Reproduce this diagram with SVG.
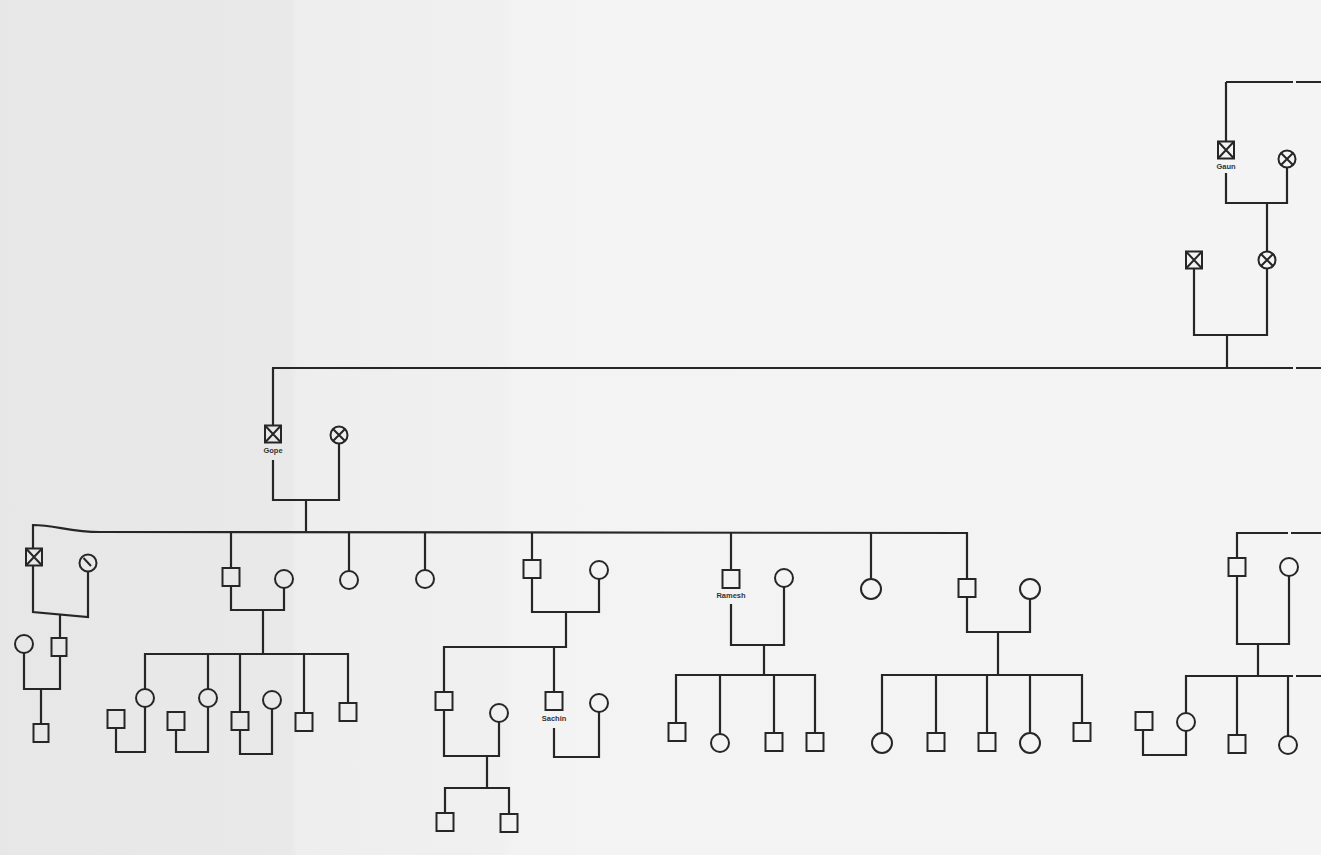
<svg xmlns="http://www.w3.org/2000/svg" xmlns:xlink="http://www.w3.org/1999/xlink" width="1321" height="855" viewBox="0 0 1321 855">
  <style>
    .ln { fill: none; stroke: #262626; stroke-width: 2.2; stroke-linejoin: miter; }
    .sym { fill: none; stroke: #262626; stroke-width: 2; }
    .lbl { font-family: "Liberation Sans", Arial, sans-serif; font-size: 7.5px; font-weight: bold; fill: #333; text-anchor: middle; }
  </style>
  <defs>
    <linearGradient id="paper" x1="0" y1="0" x2="1" y2="0">
      <stop offset="0" stop-color="#e7e7e7"/>
      <stop offset="0.22" stop-color="#e9e9e9"/>
      <stop offset="0.225" stop-color="#eeeeee"/>
      <stop offset="0.38" stop-color="#f0f0f0"/>
      <stop offset="0.39" stop-color="#f3f3f3"/>
      <stop offset="1" stop-color="#f4f4f4"/>
    </linearGradient>
    <!-- pedigree symbols, centred on 0,0 -->
    <g id="sq"><rect class="sym" x="-8.5" y="-9" width="17" height="18"/></g>
    <g id="ci"><circle class="sym" r="9"/></g>
    <g id="sqx"><rect class="sym" x="-8" y="-8.5" width="16" height="17"/><path class="sym" d="M-8,-8.5 L8,8.5 M8,-8.5 L-8,8.5"/></g>
    <g id="cix"><circle class="sym" r="8.5"/><path class="sym" d="M-6,-6 L6,6 M6,-6 L-6,6"/></g>
    <g id="cis"><circle class="sym" r="8.5"/><path class="sym" d="M-4.5,-5 L3,3"/></g>
  </defs>

  <rect width="1321" height="855" fill="url(#paper)"/>

  <g id="connectors">
    <!-- top generation -->
    <path class="ln" d="M1226,82 H1293 M1296,82 H1321"/>
    <path class="ln" d="M1226,82 V142"/>
    <path class="ln" d="M1226,173 V203 H1287 V167"/>
    <path class="ln" d="M1267,203 V251"/>
    <path class="ln" d="M1194,268 V335 H1267 V268"/>
    <path class="ln" d="M1227,335 V368"/>
    <!-- main sibling line -->
    <path class="ln" d="M272,368 H1293 M1296,368 H1321"/>
    <path class="ln" d="M273,368 V426"/>
    <path class="ln" d="M273,460 V500 H339 V444"/>
    <path class="ln" d="M306,500 V533"/>
    <!-- Gope's children -->
    <path class="ln" d="M33,549 V525 C55,525 70,532 100,532 L967,533 V579"/>
    <!-- leftmost branch -->
    <path class="ln" d="M33,566 V612 L88,617 V572"/>
    <path class="ln" d="M60,615 V638"/>
    <path class="ln" d="M24,653 V689 H60 V656"/>
    <path class="ln" d="M41,689 V724"/>
    <!-- second branch -->
    <path class="ln" d="M231,533 V568"/>
    <path class="ln" d="M231,586 V610 H284 V588"/>
    <path class="ln" d="M263,610 V654"/>
    <path class="ln" d="M145,689 V654 H348 V703"/>
    <path class="ln" d="M145,707 V752 H116 V728"/>
    <path class="ln" d="M208,654 V689"/>
    <path class="ln" d="M208,707 V752 H176 V730"/>
    <path class="ln" d="M240,654 V712"/>
    <path class="ln" d="M240,730 V754 H272 V709"/>
    <path class="ln" d="M304,654 V713"/>
    <!-- single daughters -->
    <path class="ln" d="M349,533 V571"/>
    <path class="ln" d="M425,533 V570"/>
    <!-- Sachin's branch -->
    <path class="ln" d="M532,533 V560"/>
    <path class="ln" d="M532,578 V612 H599 V579"/>
    <path class="ln" d="M566,612 V647 H444 V692"/>
    <path class="ln" d="M554,647 V692"/>
    <path class="ln" d="M554,728 V757 H599 V712"/>
    <path class="ln" d="M444,710 V756 H499 V722"/>
    <path class="ln" d="M487,756 V788"/>
    <path class="ln" d="M445,813 V788 H509 V814"/>
    <!-- Ramesh's branch -->
    <path class="ln" d="M731,533 V570"/>
    <path class="ln" d="M731,604 V645 H784 V587"/>
    <path class="ln" d="M764,645 V675"/>
    <path class="ln" d="M676,723 V675 H815 V733"/>
    <path class="ln" d="M720,675 V734"/>
    <path class="ln" d="M774,675 V733"/>
    <path class="ln" d="M871,533 V579"/>
    <!-- right-hand branch -->
    <path class="ln" d="M967,597 V632 H1030 V599"/>
    <path class="ln" d="M998,632 V675"/>
    <path class="ln" d="M882,733 V675 H1082 V723"/>
    <path class="ln" d="M936,675 V733"/>
    <path class="ln" d="M987,675 V733"/>
    <path class="ln" d="M1030,675 V733"/>
    <!-- far right branch -->
    <path class="ln" d="M1237,558 V533 H1288 M1291,533 H1321"/>
    <path class="ln" d="M1237,576 V644 H1289 V576"/>
    <path class="ln" d="M1258,644 V676"/>
    <path class="ln" d="M1186,713 V676 H1293 M1296,676 H1321"/>
    <path class="ln" d="M1186,731 V755 H1143 V730"/>
    <path class="ln" d="M1237,676 V735"/>
    <path class="ln" d="M1288,676 V736"/>
  </g>

  <!-- top generation -->
  <g id="gaun" transform="translate(1226,150)"><use xlink:href="#sqx"/><text class="lbl" y="19">Gaun</text></g>
  <g id="gaun-wife" transform="translate(1287,159)"><use xlink:href="#cix"/></g>
  <g id="son-gaun" transform="translate(1194,260)"><use xlink:href="#sqx"/></g>
  <g id="daughter-gaun" transform="translate(1267,260)"><use xlink:href="#cix"/></g>

  <!-- Gope and wife -->
  <g id="gope" transform="translate(273,434)"><use xlink:href="#sqx"/><text class="lbl" y="19">Gope</text></g>
  <g id="gope-wife" transform="translate(339,435)"><use xlink:href="#cix"/></g>

  <!-- leftmost branch -->
  <g id="n1" transform="translate(34,557)"><use xlink:href="#sqx"/></g>
  <g id="n1-wife" transform="translate(88,563)"><use xlink:href="#cis"/></g>
  <g id="n1-son" transform="translate(59,647)"><rect class="sym" x="-7.5" y="-9" width="15" height="18"/></g>
  <g id="n1-son-wife" transform="translate(24,644)"><use xlink:href="#ci"/></g>
  <g id="n1-grandson" transform="translate(41,733)"><rect class="sym" x="-7.5" y="-9" width="15" height="18"/></g>

  <!-- second branch -->
  <g id="n2" transform="translate(231,577)"><use xlink:href="#sq"/></g>
  <g id="n2-wife" transform="translate(284,579)"><use xlink:href="#ci"/></g>
  <g id="n2-d1" transform="translate(145,698)"><use xlink:href="#ci"/></g>
  <g id="n2-d1-husband" transform="translate(116,719)"><use xlink:href="#sq"/></g>
  <g id="n2-d2" transform="translate(208,698)"><use xlink:href="#ci"/></g>
  <g id="n2-d2-husband" transform="translate(176,721)"><use xlink:href="#sq"/></g>
  <g id="n2-s1" transform="translate(240,721)"><use xlink:href="#sq"/></g>
  <g id="n2-s1-wife" transform="translate(272,700)"><use xlink:href="#ci"/></g>
  <g id="n2-s2" transform="translate(304,722)"><use xlink:href="#sq"/></g>
  <g id="n2-s3" transform="translate(348,712)"><use xlink:href="#sq"/></g>

  <!-- single daughters -->
  <g id="d3" transform="translate(349,580)"><use xlink:href="#ci"/></g>
  <g id="d4" transform="translate(425,579)"><use xlink:href="#ci"/></g>

  <!-- Sachin's branch -->
  <g id="n5" transform="translate(532,569)"><use xlink:href="#sq"/></g>
  <g id="n5-wife" transform="translate(599,570)"><use xlink:href="#ci"/></g>
  <g id="n5-s1" transform="translate(444,701)"><use xlink:href="#sq"/></g>
  <g id="n5-s1-wife" transform="translate(499,713)"><use xlink:href="#ci"/></g>
  <g id="sachin" transform="translate(554,701)"><use xlink:href="#sq"/><text class="lbl" y="20">Sachin</text></g>
  <g id="sachin-wife" transform="translate(599,703)"><use xlink:href="#ci"/></g>
  <g id="n5-gs1" transform="translate(445,822)"><use xlink:href="#sq"/></g>
  <g id="n5-gs2" transform="translate(509,823)"><use xlink:href="#sq"/></g>

  <!-- Ramesh's branch -->
  <g id="ramesh" transform="translate(731,579)"><use xlink:href="#sq"/><text class="lbl" y="19">Ramesh</text></g>
  <g id="ramesh-wife" transform="translate(784,578)"><use xlink:href="#ci"/></g>
  <g id="ramesh-c1" transform="translate(677,732)"><use xlink:href="#sq"/></g>
  <g id="ramesh-c2" transform="translate(720,743)"><use xlink:href="#ci"/></g>
  <g id="ramesh-c3" transform="translate(774,742)"><use xlink:href="#sq"/></g>
  <g id="ramesh-c4" transform="translate(815,742)"><use xlink:href="#sq"/></g>

  <g id="d7" transform="translate(871,589)"><circle class="sym" r="10"/></g>

  <!-- right-hand branch -->
  <g id="n8" transform="translate(967,588)"><use xlink:href="#sq"/></g>
  <g id="n8-wife" transform="translate(1030,589)"><circle class="sym" r="10"/></g>
  <g id="n8-c1" transform="translate(882,743)"><circle class="sym" r="10"/></g>
  <g id="n8-c2" transform="translate(936,742)"><use xlink:href="#sq"/></g>
  <g id="n8-c3" transform="translate(987,742)"><use xlink:href="#sq"/></g>
  <g id="n8-c4" transform="translate(1030,743)"><circle class="sym" r="10"/></g>
  <g id="n8-c5" transform="translate(1082,732)"><use xlink:href="#sq"/></g>

  <!-- far right branch -->
  <g id="n9" transform="translate(1237,567)"><use xlink:href="#sq"/></g>
  <g id="n9-wife" transform="translate(1289,567)"><use xlink:href="#ci"/></g>
  <g id="n9-d1" transform="translate(1186,722)"><use xlink:href="#ci"/></g>
  <g id="n9-d1-husband" transform="translate(1144,721)"><use xlink:href="#sq"/></g>
  <g id="n9-s1" transform="translate(1237,744)"><use xlink:href="#sq"/></g>
  <g id="n9-d2" transform="translate(1288,745)"><use xlink:href="#ci"/></g>
</svg>
